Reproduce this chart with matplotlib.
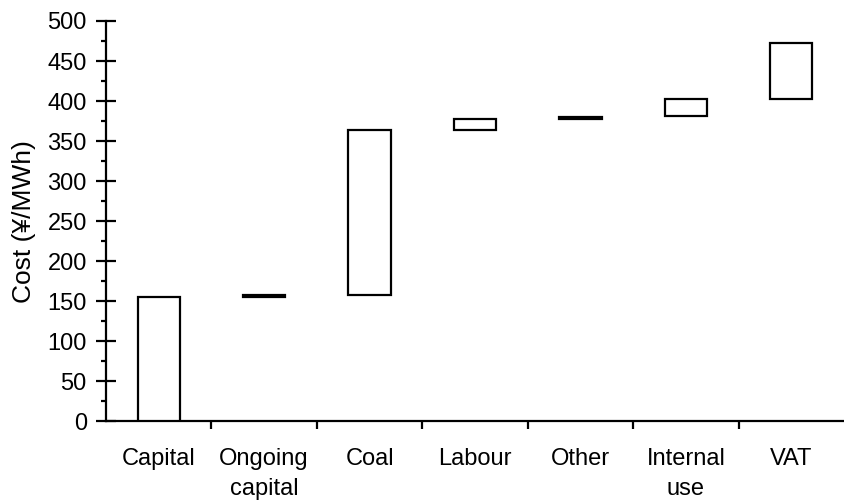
import numpy as np
import matplotlib
matplotlib.use("Agg")
import matplotlib.pyplot as plt
import matplotlib.ticker as ticker

# waterfall data, cost in yuan per MWh
categories = ["Capital", "Ongoing\ncapital", "Coal", "Labour", "Other", "Internal\nuse", "VAT"]
bar_start = [0, 156, 158, 364, 378, 381, 403]
bar_end = [156, 158, 364, 378, 380, 403, 472]

plt.rcParams['font.family'] = ['Liberation Sans', 'DejaVu Sans']

fig = plt.figure(figsize=(8.44, 5.01), dpi=100)
ax = fig.add_axes([0.1256, 0.1587, 0.8744, 0.7994])

x = np.arange(len(categories))
heights = np.array(bar_end) - np.array(bar_start)
ax.bar(x, heights, bottom=bar_start, width=0.4, facecolor="white",
       edgecolor="black", linewidth=1.6, zorder=3)

ax.set_xlim(-0.5, len(categories) - 0.5)
ax.set_ylim(0, 500)

# spines
for sp in ["top", "right"]:
    ax.spines[sp].set_visible(False)
for sp in ["left", "bottom"]:
    ax.spines[sp].set_linewidth(1.6)
    ax.spines[sp].set_color("black")

# y ticks
ax.yaxis.set_major_locator(ticker.MultipleLocator(50))
ax.yaxis.set_minor_locator(ticker.MultipleLocator(25))
ax.tick_params(axis="y", which="major", direction="inout", length=13.7,
               width=1.6, labelsize=17, pad=7)
ax.tick_params(axis="y", which="minor", direction="out", length=3.6, width=1.6)

# x ticks: labels at centres, tick marks between categories
ax.set_xticks(x)
ax.set_xticklabels(categories, linespacing=1.45)
ax.set_xticks(np.arange(0.5, len(categories) - 1, 1.0), minor=True)
ax.tick_params(axis="x", which="major", length=0, labelsize=17, pad=19)
ax.tick_params(axis="x", which="minor", direction="out", length=5.8, width=1.6)

ax.set_ylabel("Cost (¥/MWh)", fontsize=19, labelpad=8)

fig.savefig("out.png", dpi=100)
